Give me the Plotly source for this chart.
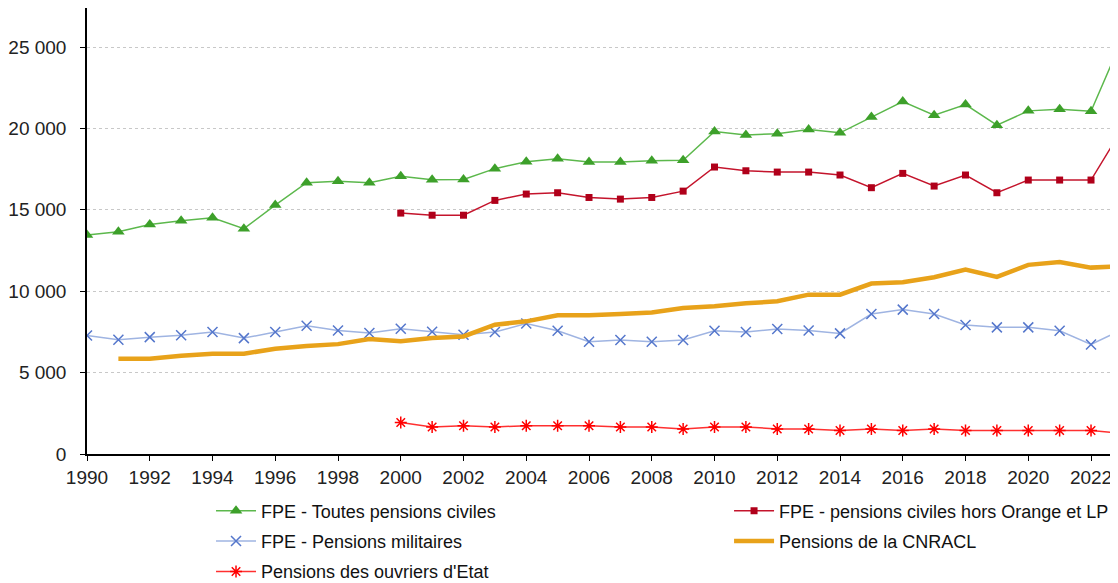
import plotly.graph_objects as go

years = list(range(1990, 2024))

fpe_civiles = [13450, 13650, 14100, 14330, 14510, 13840, 15290, 16670, 16750, 16670,
               17060, 16850, 16870, 17530, 17960, 18140, 17940, 17940, 18020, 18040,
               19810, 19600, 19680, 19930, 19730, 20710, 21650, 20810, 21470, 20200,
               21080, 21180, 21060, 25500]

fpe_hors_orange = [None] * 10 + [14800, 14670, 14670, 15580, 15970, 16050, 15760, 15660, 15760, 16150,
                                 17630, 17400, 17320, 17320, 17140, 16360, 17240, 16460, 17140, 16050,
                                 16830, 16830, 16830, 20000]

fpe_militaires = [7280, 7020, 7180, 7300, 7490, 7120, 7490, 7880, 7590, 7430,
                  7700, 7510, 7330, 7490, 8020, 7570, 6900, 7000, 6900, 7000,
                  7570, 7490, 7680, 7590, 7410, 8600, 8870, 8600, 7920, 7780,
                  7780, 7570, 6730, 7650]

cnracl = [None, 5850, 5850, 6030, 6160, 6160, 6470, 6630, 6750, 7060,
          6920, 7120, 7220, 7940, 8150, 8520, 8520, 8600, 8700, 8970,
          9070, 9260, 9380, 9790, 9790, 10470, 10550, 10860, 11330, 10880,
          11620, 11800, 11450, 11550]

ouvriers = [None] * 10 + [1930, 1660, 1740, 1660, 1740, 1740, 1740, 1660, 1660, 1540,
                          1660, 1660, 1540, 1540, 1440, 1540, 1440, 1540, 1440, 1440,
                          1440, 1440, 1440, 1280]

names = ["FPE - Toutes pensions civiles", "FPE - pensions civiles hors Orange et LP",
         "FPE - Pensions militaires", "Pensions de la CNRACL", "Pensions des ouvriers d'Etat"]

fig = go.Figure()
fig.add_trace(go.Scatter(x=years, y=fpe_civiles, name=names[0], mode="lines+markers",
                         legend="legend", legendgroup="a",
                         line=dict(color="#5cb84c", width=1.5),
                         marker=dict(symbol="triangle-up", size=11, color="#3da02a")))
fig.add_trace(go.Scatter(x=years, y=fpe_hors_orange, name=names[1], mode="lines+markers",
                         legend="legend2", legendgroup="b",
                         line=dict(color="#c4142c", width=1.5),
                         marker=dict(symbol="square", size=7, color="#b0001a")))
fig.add_trace(go.Scatter(x=years, y=fpe_militaires, name=names[2], mode="lines+markers",
                         legend="legend", legendgroup="c",
                         line=dict(color="#9fb4e2", width=1.5),
                         marker=dict(symbol="x-thin", size=10, color="#5577cc",
                                     line=dict(color="#5577cc", width=1.5))))
fig.add_trace(go.Scatter(x=years, y=cnracl, name=names[3], mode="lines",
                         legend="legend2", legendgroup="d",
                         line=dict(color="#e8a21a", width=4.5)))
fig.add_trace(go.Scatter(x=years, y=ouvriers, name=names[4], mode="lines+markers",
                         legend="legend", legendgroup="e",
                         line=dict(color="#ff3030", width=1.5),
                         marker=dict(symbol="asterisk", size=10, color="#ff0000",
                                     line=dict(color="#ff0000", width=1.5))))

legend_common = dict(orientation="v", xref="container", yref="container",
                     xanchor="left", yanchor="top",
                     font=dict(size=18, color="#111111"),
                     tracegroupgap=4, itemwidth=40, bgcolor="rgba(0,0,0,0)")

# page body has an 8px margin; figure sized so that it fits the 1118x583 window
fig.update_layout(
    width=1110, height=575,
    paper_bgcolor="white", plot_bgcolor="white",
    margin=dict(l=79, r=0, t=0, b=129, autoexpand=False),
    separators=", ",
    font=dict(family="Liberation Sans, Arial, sans-serif", color="#222222"),
    showlegend=True,
    legend=dict(x=0.1829, y=0.1575, **legend_common),
    legend2=dict(x=0.6496, y=0.1575, **legend_common),
)
fig.update_xaxes(range=[1990, 2022.86], tick0=1990, dtick=2, showgrid=False,
                 showline=True, linecolor="#000000", linewidth=1.5,
                 ticks="outside", ticklen=5, tickcolor="#000000", automargin=False,
                 tickfont=dict(size=19, color="#222222"), zeroline=False)
fig.update_yaxes(range=[0, 27400], dtick=5000, tickformat=",d",
                 showgrid=True, gridcolor="#c8c8c8", griddash="dot", gridwidth=1,
                 showline=True, linecolor="#000000", linewidth=1.5, automargin=False,
                 ticks="outside", ticklen=5, tickcolor="#000000", ticklabelstandoff=10,
                 tickfont=dict(size=19, color="#222222"), zeroline=False)

fig.write_html("out.html")
